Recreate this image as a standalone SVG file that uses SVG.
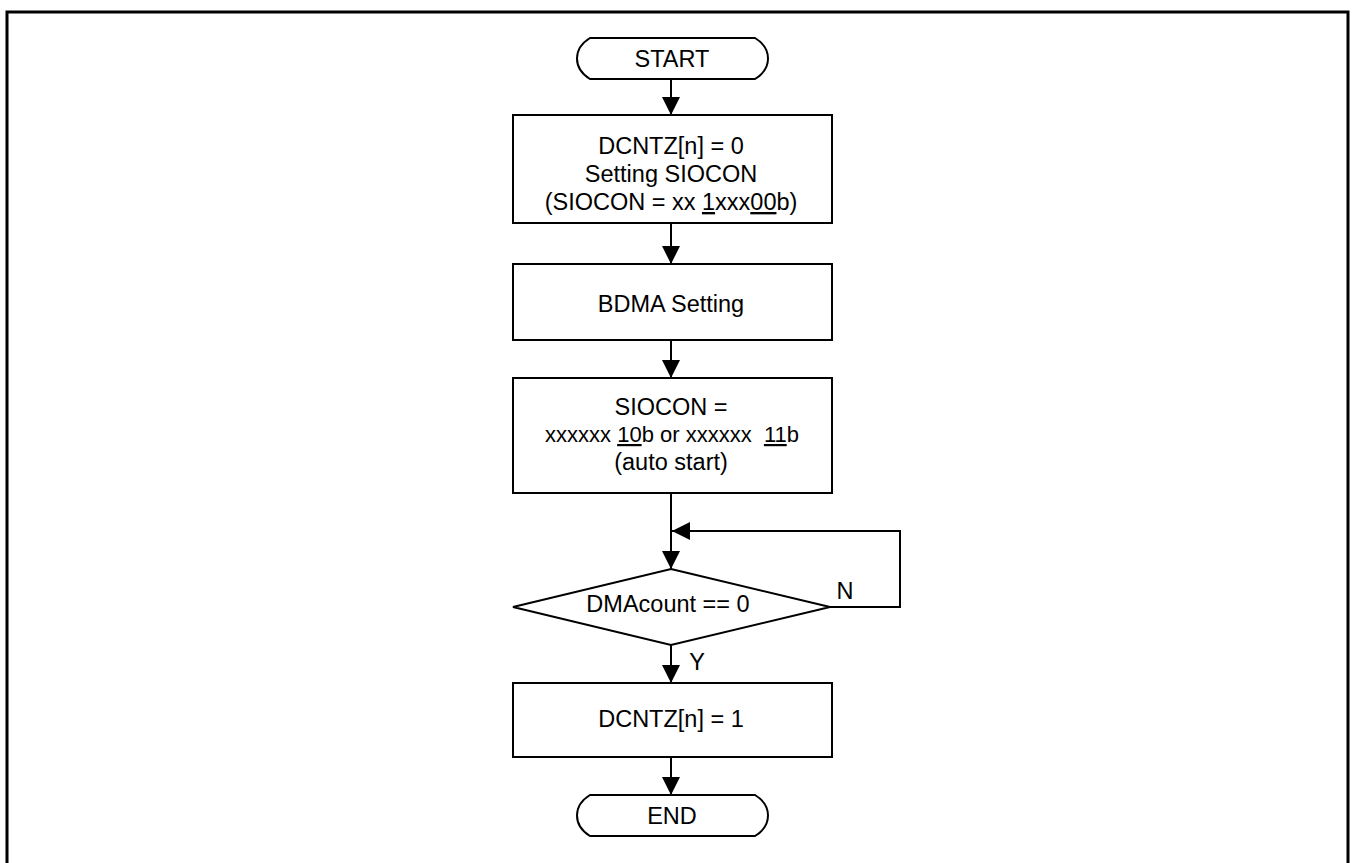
<svg xmlns="http://www.w3.org/2000/svg" width="1355" height="863" viewBox="0 0 1355 863">
<style>
.shape{fill:#fff;stroke:#000;stroke-width:2}
.ln{fill:none;stroke:#000;stroke-width:2}
text{font-family:"Liberation Sans",Arial,sans-serif;font-size:23.5px;fill:#000;text-anchor:middle}
.u{text-decoration:underline}
</style>
<defs>
<marker id="ah" markerUnits="userSpaceOnUse" markerWidth="18" markerHeight="20" viewBox="0 0 18 20" refX="18" refY="9" orient="auto">
<path d="M0,0 L18,9 L0,18 Z" fill="#000"/>
</marker>
</defs>
<rect x="7" y="12" width="1341" height="860" fill="none" stroke="#000" stroke-width="3"/>
<g id="connectors">
<line class="ln" x1="671" y1="79" x2="671" y2="115" marker-end="url(#ah)"/>
<line class="ln" x1="671" y1="223" x2="671" y2="264" marker-end="url(#ah)"/>
<line class="ln" x1="671" y1="340" x2="671" y2="378" marker-end="url(#ah)"/>
<line class="ln" x1="671" y1="493" x2="671" y2="569" marker-end="url(#ah)"/>
<polyline class="ln" points="830,607 900,607 900,531 672,531" marker-end="url(#ah)"/>
<line class="ln" x1="671" y1="645" x2="671" y2="683" marker-end="url(#ah)"/>
<line class="ln" x1="671" y1="757" x2="671" y2="795" marker-end="url(#ah)"/>
<text x="845" y="599">N</text>
<text x="697" y="670">Y</text>
</g>
<g id="start">
<path class="shape" d="M590,38 L755,38 Q768,46 768,58.5 Q768,71 755,79 L590,79 Q577,71 577,58.5 Q577,46 590,38 Z"/>
<text x="672" y="67">START</text>
</g>
<g id="init">
<rect class="shape" x="513" y="115" width="319" height="108"/>
<text x="671" y="154">DCNTZ[n] = 0</text>
<text x="671" y="182">Setting SIOCON</text>
<text x="671" y="210">(SIOCON = xx <tspan class="u">1</tspan>xxx<tspan class="u">00</tspan>b)</text>
</g>
<g id="bdma">
<rect class="shape" x="513" y="264" width="319" height="76"/>
<text x="671" y="312">BDMA Setting</text>
</g>
<g id="siocon">
<rect class="shape" x="513" y="378" width="319" height="115"/>
<text x="671" y="415">SIOCON =</text>
<text x="672" y="442" xml:space="preserve" style="font-size:22px">xxxxxx <tspan class="u">10</tspan>b or xxxxxx  <tspan class="u">11</tspan>b</text>
<text x="671" y="470">(auto start)</text>
</g>
<g id="decision">
<polygon class="shape" points="671,569 830,607 671,645 513,607"/>
<text x="668" y="612">DMAcount == 0</text>
</g>
<g id="done">
<rect class="shape" x="513" y="683" width="319" height="74"/>
<text x="671" y="727">DCNTZ[n] = 1</text>
</g>
<g id="end">
<path class="shape" d="M590,795 L755,795 Q768,803 768,815.5 Q768,828 755,836 L590,836 Q577,828 577,815.5 Q577,803 590,795 Z"/>
<text x="672" y="824">END</text>
</g>
</svg>
